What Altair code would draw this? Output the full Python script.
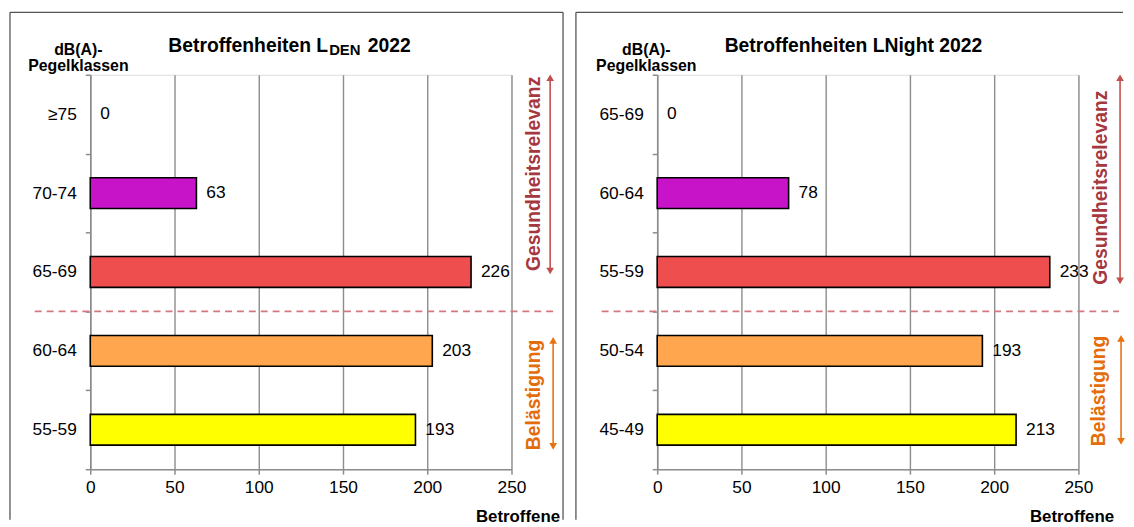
import altair as alt
import pandas as pd

# ---- data -----------------------------------------------------------
left_classes = ["≥75", "70-74", "65-69", "60-64", "55-59"]
left_values = [0, 63, 226, 203, 193]
right_classes = ["65-69", "60-64", "55-59", "50-54", "45-49"]
right_values = [0, 78, 233, 193, 213]
bar_colors = ["#A0282D", "#C814C8", "#EE4E4E", "#FFA64F", "#FFFF00"]
x_ticks = [0, 50, 100, 150, 200, 250]

left_title = ["Betroffenheiten L", "DEN", "2022"]
right_title = "Betroffenheiten LNight 2022"
class_header = ["dB(A)-", "Pegelklassen"]
x_title = "Betroffene"
ann_health = "Gesundheitsrelevanz"
ann_annoy = "Belästigung"

FONT = "Liberation Sans"
W, H = 425, 398
GRAY = "#8c8c8c"
BORDER = "#555555"
HEALTH_TXT = "#A5383F"
HEALTH_ARW = "#C0504D"
ANNOY_TXT = "#E46C0A"
ANNOY_ARW = "#E8720E"
DASH = "#D47880"
LBL = 17.5


def one_row():
    return pd.DataFrame({"k": [0]})


def rule(x, y, x2=None, y2=None, **kw):
    enc = dict(x=alt.value(x), y=alt.value(y))
    if x2 is not None:
        enc["x2"] = alt.value(x2)
    if y2 is not None:
        enc["y2"] = alt.value(y2)
    return alt.Chart(one_row()).mark_rule(**kw).encode(**enc)


def label(text, x, y, **kw):
    return (
        alt.Chart(pd.DataFrame({"t": [text]}))
        .mark_text(font=FONT, **kw)
        .encode(x=alt.value(x), y=alt.value(y), text="t:N")
    )


def tri(shape, x, y, color):
    return (
        alt.Chart(one_row())
        .mark_point(shape=shape, filled=True, size=60, color=color, opacity=1)
        .encode(x=alt.value(x), y=alt.value(y))
    )


def arrow(x, y1, y2, color):
    return [
        rule(x, y1, y2=y2, color=color, strokeWidth=1.6),
        tri("triangle-up", x, y1, color),
        tri("triangle-down", x, y2, color),
    ]


def panel(classes, values, boundary, extra, border, dash_x, betr_x,
          health, annoy, header_x):
    df = pd.DataFrame({"cls": classes, "val": values, "col": bar_colors})
    yscale = alt.Scale(domain=classes, paddingInner=0, paddingOuter=0)
    y = alt.Y(
        "cls:N", sort=classes, scale=yscale,
        axis=alt.Axis(title=None, tickBand="extent", tickSize=5, tickColor=GRAY,
                      tickWidth=1.5, domainColor=GRAY, domainWidth=1.5,
                      labelFontSize=LBL, labelFont=FONT, labelColor="black",
                      labelPadding=9, grid=False),
    )
    x = alt.X(
        "val:Q", scale=alt.Scale(domain=[0, 250], nice=False, zero=True),
        axis=alt.Axis(title=None, values=x_ticks, grid=True, gridColor=GRAY,
                      gridWidth=1.4, domainColor=GRAY, domainWidth=1.5,
                      tickColor=GRAY, tickWidth=1.5, tickSize=5,
                      labelFontSize=LBL, labelFont=FONT, labelColor="black",
                      labelPadding=5, labelFlush=False),
    )
    bars = (
        alt.Chart(df).transform_filter("datum.val > 0")
        .mark_bar(height=alt.RelativeBandSize(0.39), stroke="black", strokeWidth=1.6)
        .encode(x=x, y=y, color=alt.Color("col:N", scale=None))
    )
    vals = (
        alt.Chart(df)
        .mark_text(align="left", baseline="middle", dx=10, fontSize=LBL, font=FONT, color="black")
        .encode(x=x, y=y, text="val:Q")
    )
    dash = (
        alt.Chart(pd.DataFrame({"cls": [boundary]}))
        .mark_rule(color=DASH, strokeDash=[7, 5], strokeWidth=1.8)
        .encode(y=alt.Y("cls:N", sort=classes, scale=yscale, bandPosition=0),
                x=alt.value(dash_x[0]), x2=alt.value(dash_x[1]))
    )
    layers = [bars, vals, dash]
    layers += extra
    # header of classes
    layers.append(label(class_header[0], header_x, -25, align="center", fontSize=16, fontWeight="bold", color="black"))
    layers.append(label(class_header[1], header_x, -9, align="center", fontSize=16, fontWeight="bold", color="black"))
    layers.append(label(x_title, betr_x, 446, align="right", fontSize=17, fontWeight="bold", color="black"))
    # annotations
    hx, hy, hax, hy1, hy2 = health
    layers.append(label(ann_health, hx, hy, align="center", baseline="middle", angle=270,
                        fontSize=19.5, fontWeight="bold", color=HEALTH_TXT))
    layers += arrow(hax, hy1, hy2, HEALTH_ARW)
    ax_, ay, aax, ay1, ay2 = annoy
    layers.append(label(ann_annoy, ax_, ay, align="center", baseline="middle", angle=270,
                        fontSize=19.5, fontWeight="bold", color=ANNOY_TXT))
    layers += arrow(aax, ay1, ay2, ANNOY_ARW)
    # panel border
    bl, br, bt, bb = border
    layers.append(rule(bl, bt, x2=br, color=BORDER, strokeWidth=1.3))
    layers.append(rule(bl, bt, y2=bb, color=BORDER, strokeWidth=1.3))
    if br >= 474:
        layers.append(rule(br, bt, y2=bb, color=BORDER, strokeWidth=1.3))
    return alt.layer(*layers).properties(width=W, height=H)


left_title_layers = [
    label(left_title[0], 240, -29, align="right", fontSize=19.5, fontWeight="bold", color="black"),
    label(left_title[1], 241, -25, align="left", fontSize=15, fontWeight="bold", color="black"),
    label(left_title[2], 280, -29, align="left", fontSize=19.5, fontWeight="bold", color="black"),
]
right_title_layers = [
    label(right_title, 198, -29, align="center", fontSize=19.5, fontWeight="bold", color="black"),
]

left = panel(left_classes, left_values, "60-64", left_title_layers,
             border=(-81, 477, -63, 449), dash_x=(-56, 468), betr_x=474,
             health=(448, 100, 464, 3, 198), annoy=(448, 323, 467, 268, 375),
             header_x=-12)
right = panel(right_classes, right_values, "50-54", right_title_layers,
              border=(-82, 470, -63, 449), dash_x=(-56, 466), betr_x=461,
              health=(448, 114, 467, 3, 208), annoy=(446, 319, 468, 266, 370),
              header_x=-11)

chart = (
    alt.hconcat(left, right, spacing=9)
    .properties(padding={"left": 0, "top": 0, "right": 0, "bottom": 0})
    .configure_view(stroke=None, fill="#f2f2f2")
    .configure(font=FONT)
)

chart.save("out.html", embed_options={"renderer": "svg", "actions": False})
